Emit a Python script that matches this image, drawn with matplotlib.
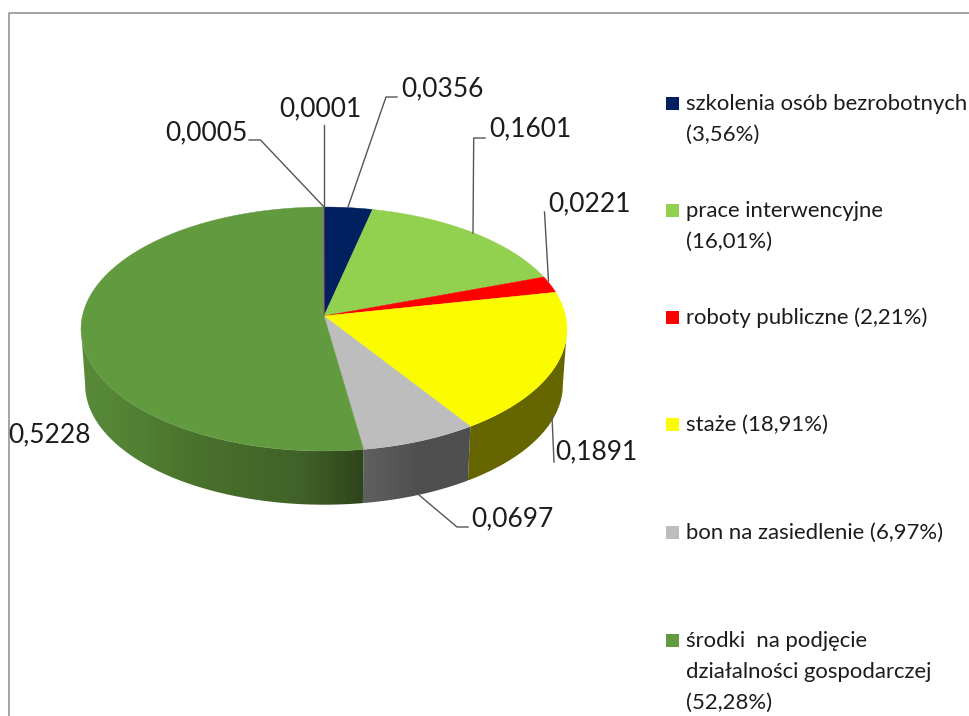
import numpy as np
import matplotlib
matplotlib.use("Agg")
import matplotlib.pyplot as plt
from matplotlib.colors import to_rgb
from matplotlib.patches import Polygon

# slices clockwise from 12 o'clock, last two are not in the legend
values = [0.0356, 0.1601, 0.0221, 0.1891, 0.0697, 0.5228, 0.0005, 0.0001]
value_labels = ["0,0356", "0,1601", "0,0221", "0,1891", "0,0697", "0,5228", "0,0005", "0,0001"]
legend_labels = [
    "szkolenia osób bezrobotnych\n(3,56%)",
    "prace interwencyjne\n(16,01%)",
    "roboty publiczne (2,21%)",
    "staże (18,91%)",
    "bon na zasiedlenie (6,97%)",
    "środki  na podjęcie\ndziałalności gospodarczej\n(52,28%)",
]
colors = ["#002060", "#92d050", "#ff0000", "#fcfc00", "#bdbdbd", "#629a3f", "#4f81bd", "#c0504d"]

plt.rcParams["font.family"] = ["Lato", "DejaVu Sans"]
TEXT = "#1c1c1c"
CX, CY = 324, 316


def project(theta, scale=1.0, dy=0.0):
    # circle seen in perspective, so the centre sits above the middle of the ellipse
    w = 1 + 0.1066 * np.cos(theta)
    return CX + scale * 241.6 * np.sin(theta) / w, CY + dy - scale * 120.6 * np.cos(theta) / w


def side_gradient(i, x):
    # side walls get a horizontal shading per slice
    if i == 5:
        stops, cols = [85, 125, 190, 300, 362], ["#588a39", "#548335", "#4a732d", "#406228", "#2f451c"]
    elif i == 4:
        stops, cols = [362, 420, 469], ["#606060", "#4f4f4f", "#505050"]
    else:
        stops, cols = [0, 969], ["#666600", "#666600"]
    rgb = np.array([to_rgb(c) for c in cols])
    return np.stack([np.interp(x, stops, rgb[:, k]) for k in range(3)], axis=-1)


fig = plt.figure(figsize=(9.69, 7.16), dpi=100)
ax = fig.add_axes([0, 0, 1, 1])
ax.axis("off")

# frame of the chart area, only top and left are in the crop
ax.plot([9, 9, 969], [716, 13, 13], color="#8c8c8c", lw=1.1)

edges = np.cumsum([0] + values) * 2 * np.pi
vis_from, vis_to = np.radians(96), np.radians(264)

# side walls first, a gradient image clipped to each wall
for i in range(len(values)):
    a, b = max(edges[i], vis_from), min(edges[i + 1], vis_to)
    if b <= a:
        continue
    ts = np.linspace(a, b, 200)
    x_top, y_top = project(ts)
    x_bot, y_bot = project(ts, 0.983, 56)
    poly = Polygon(np.c_[np.r_[x_top, x_bot[::-1]], np.r_[y_top, y_bot[::-1]]], closed=True,
                   transform=ax.transData, fc="none", ec="none")
    ax.add_patch(poly)
    x0, x1 = min(x_top.min(), x_bot.min()), max(x_top.max(), x_bot.max())
    y0, y1 = min(y_top.min(), y_bot.min()), max(y_top.max(), y_bot.max())
    grad = side_gradient(i, np.linspace(x0, x1, 256))[np.newaxis, :, :]
    im = ax.imshow(grad, extent=[x0, x1, y1, y0], aspect="auto", zorder=2, interpolation="bilinear")
    im.set_clip_path(poly)

ax.set_xlim(0, 969)
ax.set_ylim(716, 0)

# top surface
for i in range(len(values)):
    ts = np.linspace(edges[i], edges[i + 1], max(int((edges[i + 1] - edges[i]) * 120), 2))
    xs, ys = project(ts)
    ax.fill(np.r_[CX, xs], np.r_[CY, ys], color=colors[i], lw=0.3, zorder=3)

# leader lines
leaders = [
    ([324, 260.5, 249], [207, 140, 140]),
    ([324, 324], [207, 125]),
    ([348, 386, 397], [207, 97, 97]),
    ([473, 473.7, 485], [233, 138, 138]),
    ([548.5, 544.5], [281, 212]),
    ([552, 554], [417, 462]),
    ([419, 457, 468], [495, 527, 527]),
]
for xs, ys in leaders:
    ax.plot(xs, ys, color="#555555", lw=1.0, zorder=4)

# value labels
label_pos = {
    "0,0005": (206, 133),
    "0,0001": (320, 109),
    "0,0356": (442, 89),
    "0,1601": (530, 129),
    "0,0221": (590, 204),
    "0,1891": (596, 452),
    "0,0697": (512, 519),
    "0,5228": (50, 435),
}
for lab in value_labels:
    x, y = label_pos[lab]
    ax.text(x, y, lab, ha="center", va="center", fontsize=19, color=TEXT, zorder=5)

# legend
legend_y = [103, 210, 317, 424, 532, 640]
for i, lab in enumerate(legend_labels):
    ax.fill([666, 679, 679, 666], [legend_y[i] - 6.5, legend_y[i] - 6.5, legend_y[i] + 6.5, legend_y[i] + 6.5],
            color=colors[i], lw=0)
    for j, line in enumerate(lab.split("\n")):
        ax.text(686, legend_y[i] + 1 + j * 31, line, ha="left", va="center", fontsize=15.9, color=TEXT, clip_on=True)

fig.savefig("out.png", dpi=100)
